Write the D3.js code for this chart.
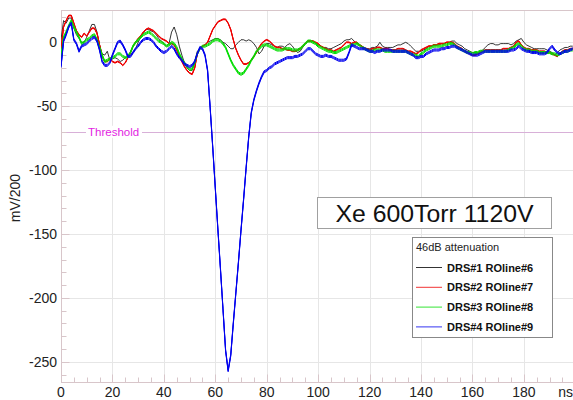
<!DOCTYPE html>
<html>
<head>
<meta charset="utf-8">
<script src="https://cdn.jsdelivr.net/npm/d3@7"></script>
<style>
  html, body { margin: 0; padding: 0; background: #fff; }
  svg { display: block; font-family: "Liberation Sans", Arial, sans-serif; }
</style>
</head>
<body>
<svg id="chart" width="573" height="400"></svg>
<script>
// Digitizer sampling step (ns) for every readout line below.
const SAMPLE_NS = 1;

// DRS#1 ROline#6 (mV/200), one sample per ns from 0 to 199 ns
const drs1 = [
  2, 17, 15, 19, 19, 11, 6, 3, 0, 0,
  4, 9, 14, 14, 8, -2, -9, -10, -7, -14,
  -13, -12, -13, -15, -14, -12, -11, -10, -8, -5,
  0, 4, 7, 10, 10, 9, 8, 6, 3, 1,
  -1, -3, -1, 8, 12, 6, -3, -10, -16, -20,
  -22, -22, -15, -7, -5, -3, -2, 0, 1, 2,
  3, 3, 2, 0, -1, -3, -5, -5, -2, 0,
  2, 2, 1, 2, 1, -1, -4, -9, -7, -3,
  -1, -1, -2, -3, -4, -3, -3, -4, -2, -1,
  -3, -6, -8, -7, -4, -1, 1, 1, 1, -1,
  -2, -3, -4, -4, -5, -5, -4, -3, -2, -1,
  1, 2, 2, 3, 1, -1, -2, -3, -4, -5,
  -5, -4, -4, -3, 0, -3, -4, -4, -4, -4,
  -3, -2, -2, -1, 0, -1, -3, -5, -7, -7,
  -7, -6, -5, -3, -3, -2, -2, -2, -1, -1,
  0, 0, 1, 1, -1, -2, -3, -5, -6, -7,
  -8, -8, -8, -7, -6, -4, -2, -1, -1, -2,
  -2, -1, -1, -1, -1, -2, -1, 1, 2, 3,
  0, -2, -3, -4, -5, -5, -5, -5, -5, -6,
  -7, -8, -10, -8, -6, -5, -4, -4, -3, -3
];

// DRS#2 ROline#7
const drs2 = [
  -5, 12, 17, 21, 21, 15, 9, 6, 4, 7,
  5, 8, 11, 11, 7, -2, -11, -15, -15, -13,
  -15, -16, -15, -16, -18, -16, -12, -8, -3, 0,
  3, 5, 8, 10, 11, 10, 9, 7, 5, 3,
  2, 1, -1, -1, -2, -6, -11, -15, -19, -22,
  -24, -25, -20, -9, -5, -3, -2, 0, 5, 10,
  13, 16, 17, 18, 18, 15, 10, 2, -5, -10,
  -14, -17, -17, -16, -14, -11, -8, -4, -1, 1,
  2, 1, -1, -3, -4, -4, -5, -5, -6, -6,
  -7, -7, -6, -5, -3, -1, 1, 1, 1, 0,
  -1, -3, -4, -5, -6, -6, -7, -6, -5, -4,
  -2, 0, 0, -1, 0, 0, -2, -3, -5, -5,
  -6, -5, -5, -4, -4, -5, -5, -5, -6, -6,
  -6, -5, -5, -5, -6, -7, -7, -8, -9, -8,
  -6, -5, -4, -3, -3, -2, -2, -1, -1, -1,
  0, 0, 0, -1, -3, -4, -5, -7, -8, -9,
  -10, -10, -9, -8, -7, -6, -6, -6, -6, -6,
  -6, -6, -5, -5, -5, -4, -3, 0, 1, -2,
  -4, -5, -5, -6, -6, -6, -7, -7, -7, -8,
  -8, -9, -10, -11, -9, -7, -6, -6, -5, -5
];

// DRS#3 ROline#8
const drs3 = [
  -12, 4, 8, 13, 17, 12, 8, 4, -1, 0,
  2, 3, 5, 6, 2, -4, -10, -15, -14, -13,
  -12, -11, -9, -9, -11, -12, -11, -8, -3, 0,
  2, 4, 6, 7, 8, 7, 5, 3, 1, 0,
  -1, -3, -2, 0, -1, -4, -9, -13, -16, -19,
  -21, -21, -16, -9, -5, -3, -3, -2, -1, 1,
  2, 2, 1, -1, -4, -9, -14, -18, -21, -24,
  -25, -24, -21, -18, -14, -11, -7, -5, -3, -2,
  -2, -3, -4, -5, -6, -6, -6, -5, -5, -5,
  -6, -6, -6, -5, -3, -1, 1, 1, 0, -1,
  -3, -4, -5, -6, -7, -7, -8, -8, -7, -6,
  -5, -4, -3, -2, -2, -1, -2, -4, -5, -6,
  -7, -7, -6, -6, -6, -6, -7, -7, -7, -7,
  -7, -7, -7, -7, -7, -8, -9, -10, -10, -11,
  -9, -8, -6, -5, -4, -3, -3, -3, -3, -2,
  -2, -1, -1, -2, -4, -5, -6, -7, -8, -8,
  -9, -8, -8, -7, -7, -7, -7, -7, -7, -7,
  -7, -7, -7, -7, -6, -5, -4, -2, -1, -3,
  -5, -6, -6, -7, -7, -7, -8, -8, -8, -8,
  -8, -9, -9, -10, -9, -8, -7, -7, -6, -6
];

// DRS#4 ROline#9
const drs4 = [
  -19, 1, 6, 12, 15, 2, -1, -7, -3, -2,
  -1, 1, 3, 4, 1, -6, -15, -18, -18, -16,
  -10, -5, 0, 1, -2, -6, -11, -11, -8, -5,
  -3, 0, 2, 3, 3, 2, 0, -3, -5, -7,
  -8, -7, -5, -3, -5, -9, -12, -14, -17, -18,
  -19, -18, -15, -9, -4, -5, -10, -22, -51, -82,
  -114, -146, -177, -209, -241, -257, -245, -220, -196, -172,
  -147, -123, -98, -74, -55, -45, -38, -32, -27, -23,
  -22, -20, -19, -17, -16, -15, -14, -13, -12, -12,
  -12, -11, -11, -10, -9, -7, -5, -5, -7, -9,
  -10, -11, -11, -10, -11, -11, -12, -13, -14, -14,
  -14, -13, -8, -2, -3, -4, -5, -5, -5, -6,
  -7, -7, -8, -7, -7, -6, -6, -6, -6, -7,
  -7, -7, -7, -7, -7, -8, -9, -10, -12, -12,
  -11, -11, -9, -8, -7, -6, -6, -6, -5, -5,
  -4, -4, -3, -3, -4, -5, -6, -7, -8, -9,
  -10, -10, -10, -9, -8, -7, -7, -7, -7, -7,
  -7, -7, -7, -7, -7, -6, -6, -5, -3, -5,
  -6, -7, -7, -8, -8, -8, -9, -9, -9, -8,
  -5, -3, -6, -8, -9, -8, -7, -7, -6, -5
];

const seriesNames = ["DRS#1 ROline#6", "DRS#2 ROline#7", "DRS#3 ROline#8", "DRS#4 ROline#9"];
const seriesValues = [drs1, drs2, drs3, drs4];
const seriesColors = ["#000000", "#ee0000", "#00dd00", "#0000ee"];

const xTicks = [0, 20, 40, 60, 80, 100, 120, 140, 160, 180];
const xTickLabels = ["0", "20", "40", "60", "80", "100", "120", "140", "160", "180"];
const yTicks = [-250, -200, -150, -100, -50, 0];
const yTickLabels = ["-250", "-200", "-150", "-100", "-50", "0"];
const thresholdValue = -70;
const thresholdLabel = "Threshold";
const xUnit = "ns";
const yTitle = "mV/200";
const runTitle = "Xe 600Torr 1120V";
const legendTitle = "46dB attenuation";

// ---- layout ----
const width = 573, height = 400;
const margin = { top: 10, right: 0, bottom: 18, left: 61 };
const svg = d3.select("#chart");

const x = d3.scaleLinear().domain([0, 199.1]).range([margin.left, width - margin.right]);
const y = d3.scaleLinear().domain([-265.8, 25.3]).range([height - margin.bottom, margin.top]);

// stroke width and vertical spread (px) of each trace; the spread gives the
// flat parts of the noisier lines their band-like look while steep edges stay thin
const traceStyle = [
  { width: 0.8, spread: 0 },
  { width: 1.0, spread: 0.4 },
  { width: 1.0, spread: 1.0 },
  { width: 1.0, spread: 1.0 }
];

const frameColor = "#d8c6ca";
const gridColor = "#e6e6e6";
const px = v => Math.round(v) + 0.5;

// grid
const grid = svg.append("g");
grid.selectAll("line.gx").data(xTicks.filter(t => t > 0)).join("line")
  .attr("x1", d => px(x(d))).attr("x2", d => px(x(d)))
  .attr("y1", y.range()[1]).attr("y2", y.range()[0])
  .attr("stroke", gridColor).attr("stroke-width", 1);
grid.selectAll("line.gy").data(yTicks).join("line")
  .attr("x1", x.range()[0]).attr("x2", x.range()[1])
  .attr("y1", d => px(y(d))).attr("y2", d => px(y(d)))
  .attr("stroke", gridColor).attr("stroke-width", 1);

// threshold
svg.append("line")
  .attr("x1", x.range()[0]).attr("x2", x.range()[1])
  .attr("y1", px(y(thresholdValue))).attr("y2", px(y(thresholdValue)))
  .attr("stroke", "#d8b0d8").attr("stroke-width", 1);

// frame and minor ticks
const frame = svg.append("g").attr("stroke", frameColor).attr("stroke-width", 1).attr("fill", "none");
frame.append("line").attr("x1", px(x.range()[0])).attr("x2", px(x.range()[0]))
  .attr("y1", y.range()[1]).attr("y2", y.range()[0]);
frame.append("line").attr("x1", x.range()[0]).attr("x2", x.range()[1])
  .attr("y1", px(y.range()[0])).attr("y2", px(y.range()[0]));
frame.append("line").attr("x1", x.range()[0]).attr("x2", x.range()[1])
  .attr("y1", px(y.range()[1])).attr("y2", px(y.range()[1]));

const yMinor = d3.range(-260, 25, 10);
frame.selectAll("line.ty").data(yMinor).join("line")
  .attr("x1", px(x.range()[0])).attr("x2", d => px(x.range()[0]) + (d % 50 === 0 ? 8 : 5))
  .attr("y1", d => px(y(d))).attr("y2", d => px(y(d)));
const xMinor = d3.range(0, 200, 5);
frame.selectAll("line.tx").data(xMinor).join("line")
  .attr("x1", d => px(x(d))).attr("x2", d => px(x(d)))
  .attr("y1", px(y.range()[0])).attr("y2", d => px(y.range()[0]) - (d % 20 === 0 ? 8 : 5));

// tick labels
const labels = svg.append("g").attr("font-size", 14).attr("fill", "#222");
labels.selectAll("text.yl").data(yTicks).join("text")
  .attr("x", x.range()[0] - 4).attr("y", d => y(d) + 5)
  .attr("text-anchor", "end").text((d, i) => yTickLabels[i]);
labels.selectAll("text.xl").data(xTicks).join("text")
  .attr("x", d => x(d)).attr("y", 397)
  .attr("text-anchor", "middle").text((d, i) => xTickLabels[i]);
labels.append("text").attr("x", x.range()[1]).attr("y", 397)
  .attr("text-anchor", "end").text(xUnit);
labels.append("text")
  .attr("transform", `translate(20,${(y(-100) + y(-150)) / 2 - 4}) rotate(-90)`)
  .attr("text-anchor", "middle").text(yTitle);

// threshold label
const thrY = y(thresholdValue);
svg.append("rect").attr("x", 86).attr("y", thrY - 6).attr("width", 56).attr("height", 12).attr("fill", "#fff");
svg.append("text").attr("x", 88).attr("y", thrY + 4)
  .attr("font-size", 11.5).attr("fill", "#e21ee2").text(thresholdLabel);

// traces
svg.append("clipPath").attr("id", "plotclip").append("rect")
  .attr("x", x.range()[0]).attr("y", y.range()[1])
  .attr("width", x.range()[1] - x.range()[0]).attr("height", y.range()[0] - y.range()[1]);
const line = d3.line().x((d, i) => x(i * SAMPLE_NS)).y(d => y(d));
const traces = svg.append("g").attr("clip-path", "url(#plotclip)");
seriesValues.forEach((vals, k) => {
  const st = traceStyle[k];
  const offsets = st.spread > 0 ? [-st.spread, 0, st.spread] : [0];
  offsets.forEach(off => {
    traces.append("path").datum(vals)
      .attr("d", line).attr("fill", "none")
      .attr("transform", `translate(0,${off})`)
      .attr("stroke", seriesColors[k]).attr("stroke-width", st.width)
      .attr("stroke-linejoin", "round");
  });
});

// run title box
const tb = svg.append("g");
tb.append("rect").attr("x", 317.5).attr("y", 197.5).attr("width", 234).attr("height", 31)
  .attr("fill", "#fff").attr("stroke", "#a0a0a0");
tb.append("text").attr("x", 434.5).attr("y", 222).attr("text-anchor", "middle")
  .attr("font-size", 24.8).attr("fill", "#111").text(runTitle);

// legend
const lg = svg.append("g");
lg.append("rect").attr("x", 412.5).attr("y", 237.5).attr("width", 140).attr("height", 100)
  .attr("fill", "#fff").attr("stroke", "#888");
lg.append("text").attr("x", 416).attr("y", 251).attr("font-size", 11).attr("fill", "#222").text(legendTitle);
seriesNames.forEach((name, k) => {
  const ly = 267.5 + k * 19.8;
  lg.append("line").attr("x1", 416).attr("x2", 442).attr("y1", ly).attr("y2", ly)
    .attr("stroke", seriesColors[k]).attr("stroke-width", 0.8);
  lg.append("text").attr("x", 447).attr("y", ly + 4).attr("font-size", 11)
    .attr("font-weight", "bold").attr("fill", "#111").text(name);
});
</script>
</body>
</html>
